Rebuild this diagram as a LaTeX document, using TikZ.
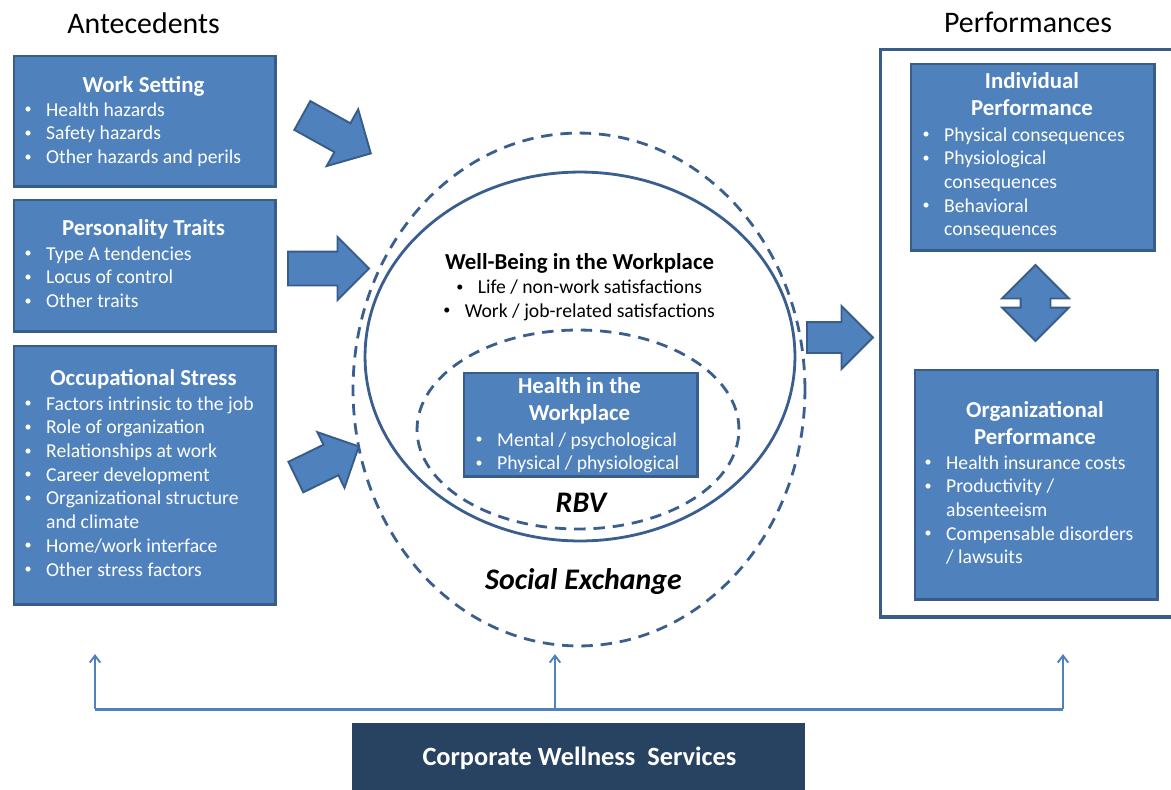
\documentclass[tikz,border=0pt]{standalone}
\usepackage{fontspec}
\usepackage{graphicx}
\setmainfont{Carlito}
\usetikzlibrary{shapes.geometric,shapes.arrows,arrows.meta}

\definecolor{boxfill}{HTML}{4F81BD}
\definecolor{boxline}{HTML}{385D8A}
\definecolor{ringline}{HTML}{3A5F8F}
\definecolor{navy}{HTML}{284262}

% type sizes
\newcommand{\ttl}{\fontsize{13}{15.9}\selectfont\bfseries}
\newcommand{\itm}{\fontsize{11.2}{13.5}\selectfont}
\newcommand{\hdg}{\fontsize{17}{20}\selectfont}
\newcommand{\theory}{\fontsize{17}{20}\selectfont\bfseries\itshape}
% bullet cell of a list row
\newcommand{\bul}{\makebox[20.4pt][c]{\raisebox{0.25ex}{\scalebox{0.72}{\textbullet}}}}

\begin{document}
\begin{tikzpicture}[x=0.02cm, y=-0.02cm,
  bluebox/.style={draw=boxline, fill=boxfill, line width=1.7pt, inner sep=0pt, anchor=north west},
  boxtitle/.style={text=white, anchor=base, inner sep=0pt, font=\ttl},
  boxlist/.style={text=white, anchor=base west, inner sep=0pt, font=\itm},
  blockarrow/.style={single arrow, draw=boxline, fill=boxfill, line width=1.1pt,
    inner xsep=0pt, single arrow tip angle=90, single arrow head indent=0pt, anchor=tail},
  ring/.style={ellipse, draw=ringline, line width=1.6pt, inner sep=0pt},
  dashring/.style={ring, dash pattern=on 6.5pt off 4.5pt},
  bus/.style={draw=boxfill, line width=1.7pt},
  feed/.style={draw=boxfill, line width=1.1pt, -{Straight Barb[length=4pt,width=6pt]}}
]
\useasboundingbox (0,0) rectangle (1171,789);
\clip (0,0) rectangle (1171,789);

% column headings
\node[anchor=base, inner sep=0pt, font=\hdg] (antec) at (143.5,33) {Antecedents};
\node[anchor=base, inner sep=0pt, font=\hdg] (perfs) at (1028,32) {Performances};

% antecedent boxes
\node[bluebox, minimum width=5.24cm, minimum height=2.62cm] (ws) at (12.5,54.5) {};
\node[boxtitle] (wst) at (143.5,92) {Work Setting};
\node[boxlist] (wsl) at (10,116) {\begin{tabular}[t]{@{}l@{}l@{}}
  \bul & Health hazards\\
  \bul & Safety hazards\\
  \bul & Other hazards and perils
\end{tabular}};

\node[bluebox, minimum width=5.24cm, minimum height=2.64cm] (pt) at (12.5,198.5) {};
\node[boxtitle] (ptt) at (143.5,235) {Personality Traits};
\node[boxlist] (ptl) at (10,260) {\begin{tabular}[t]{@{}l@{}l@{}}
  \bul & Type A tendencies\\
  \bul & Locus of control\\
  \bul & Other traits
\end{tabular}};

\node[bluebox, minimum width=5.24cm, minimum height=5.18cm] (os) at (12.5,344.5) {};
\node[boxtitle] (ost) at (143.5,385) {Occupational Stress};
\node[boxlist] (osl) at (10,410) {\begin{tabular}[t]{@{}l@{}l@{}}
  \bul & Factors intrinsic to the job\\
  \bul & Role of organization\\
  \bul & Relationships at work\\
  \bul & Career development\\
  \bul & Organizational structure\\
       & and climate\\
  \bul & Home/work interface\\
  \bul & Other stress factors
\end{tabular}};

% block arrows into the rings (shaft width = 2 x inner ysep), placed by their tails
\node[blockarrow, minimum height=1.566cm, inner ysep=0.31cm,
  single arrow head extend=0.32cm, rotate=-29] (a1) at (301.5,115) {};
\node[blockarrow, minimum height=1.62cm, inner ysep=0.32cm,
  single arrow head extend=0.29cm] (a2) at (287,268.5) {};
\node[blockarrow, minimum height=1.40cm, inner ysep=0.32cm,
  single arrow head extend=0.28cm, rotate=26] (a3) at (295,477.5) {};

% nested rings
\node[dashring, minimum width=9.04cm, minimum height=10.26cm] (se) at (579,389.5) {};
\node[ring, minimum width=8.60cm, minimum height=7.38cm] (wb) at (580,356.5) {};
\node[dashring, minimum width=6.44cm, minimum height=3.98cm] (rbv) at (578,429.5) {};

\node[anchor=base, inner sep=0pt, font=\ttl] (wbt) at (579.5,269) {Well-Being in the Workplace};
\node[anchor=base, inner sep=0pt, font=\itm] (wbl) at (572,293.5) {\begin{tabular}[t]{@{}c@{}}
  \bul Life / non-work satisfactions\\
  \bul Work / job-related satisfactions
\end{tabular}};

\node[bluebox, minimum width=4.68cm, minimum height=2.08cm] (hw) at (462.5,371.5) {};
\node[boxtitle] (hwt) at (579.5,393) {\begin{tabular}[t]{@{}c@{}}Health in the\\ Workplace\end{tabular}};
\node[boxlist] (hwl) at (461,446) {\begin{tabular}[t]{@{}l@{}l@{}}
  \bul & Mental / psychological\\
  \bul & Physical / physiological
\end{tabular}};

\node[anchor=base, inner sep=0pt, font=\theory] (rbvt) at (581,512) {RBV};
\node[anchor=base, inner sep=0pt, font=\theory] (set) at (583.5,589) {Social Exchange};

% arrow to the performance frame
\node[blockarrow, minimum height=1.32cm, inner ysep=0.29cm,
  single arrow head extend=0.32cm] (a4) at (806,337.5) {};

% performances
\node[draw=boxline, line width=2.2pt, inner sep=0pt, anchor=north west,
  minimum width=6.6cm, minimum height=11.36cm] (perf) at (878.5,47.5) {};

\node[bluebox, minimum width=4.88cm, minimum height=3.74cm] (ip) at (909.5,62.5) {};
\node[boxtitle] (ipt) at (1032,88) {\begin{tabular}[t]{@{}c@{}}Individual\\ Performance\end{tabular}};
\node[boxlist] (ipl) at (908,141) {\begin{tabular}[t]{@{}l@{}l@{}}
  \bul & Physical consequences\\
  \bul & Physiological\\
       & consequences\\
  \bul & Behavioral\\
       & consequences
\end{tabular}};

\node[double arrow, draw=boxline, fill=boxfill, line width=1.1pt, inner xsep=0pt, inner ysep=0.28cm,
  double arrow tip angle=90, double arrow head indent=0pt,
  minimum height=1.52cm, double arrow head extend=0.37cm,
  rotate=90] (dbl) at (1035.5,303) {};

\node[bluebox, minimum width=4.86cm, minimum height=4.60cm] (op) at (913.5,368.5) {};
\node[boxtitle] (opt) at (1035,417) {\begin{tabular}[t]{@{}c@{}}Organizational\\ Performance\end{tabular}};
\node[boxlist] (opl) at (910,469) {\begin{tabular}[t]{@{}l@{}l@{}}
  \bul & Health insurance costs\\
  \bul & Productivity /\\
       & absenteeism\\
  \bul & Compensable disorders\\
       & / lawsuits
\end{tabular}};

% wellness services and its feeds
\node[fill=navy, inner sep=0pt, anchor=north west, minimum width=9.06cm, minimum height=1.6cm] (cws) at (352,723) {};
\node[anchor=base, inner sep=0pt, text=white, font=\fontsize{15}{18}\selectfont\bfseries] (cwst) at (579.5,765) {Corporate Wellness\ \ Services};

\coordinate (busL) at (95,709);
\coordinate (busM) at (555,709);
\coordinate (busR) at (1063,709);
\coordinate (tipL) at (95,654);
\coordinate (tipM) at (555,654);
\coordinate (tipR) at (1063,654);
\draw[bus] (busL) -- (busR);
\draw[feed] (busL) -- (tipL);
\draw[feed] (busM) -- (tipM);
\draw[feed] (busR) -- (tipR);
\end{tikzpicture}
\end{document}
